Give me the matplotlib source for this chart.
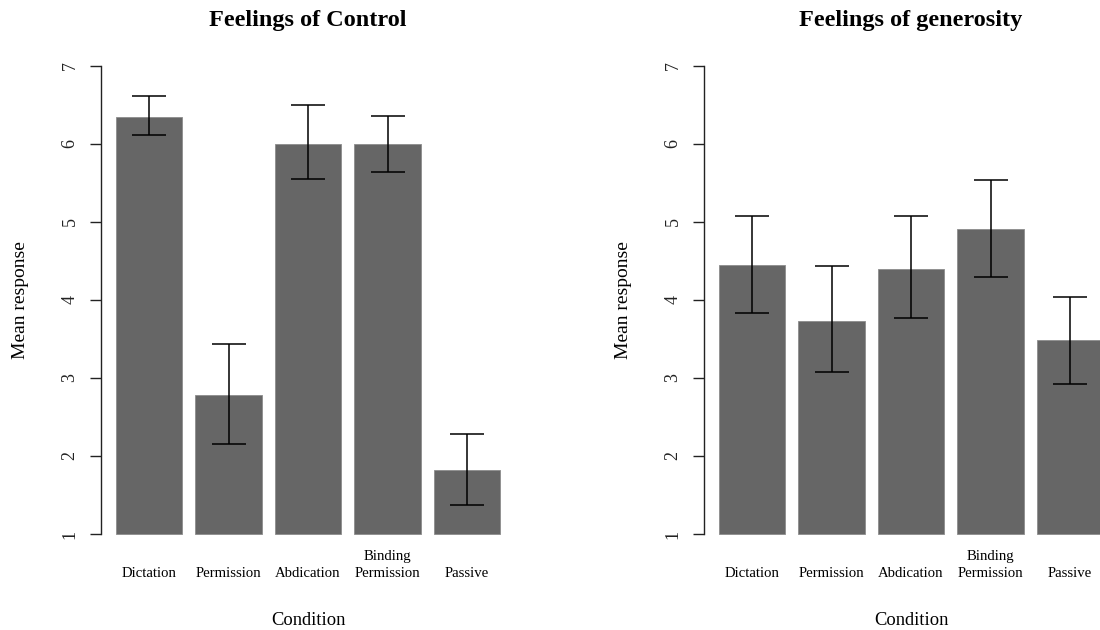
import matplotlib
matplotlib.use("Agg")
import matplotlib.pyplot as plt
import matplotlib.transforms as mtransforms

plt.rcParams['font.family'] = ['Liberation Serif', 'DejaVu Serif']

conditions = ["Dictation", "Permission", "Abdication", "Binding\nPermission", "Passive"]

control_mean = [6.34, 2.78, 6.00, 5.99, 1.82]
control_upper = [6.61, 3.43, 6.49, 6.35, 2.28]
control_lower = [6.11, 2.15, 5.55, 5.63, 1.37]

generosity_mean = [4.44, 3.73, 4.40, 4.90, 3.48]
generosity_upper = [5.07, 4.43, 5.07, 5.53, 4.03]
generosity_lower = [3.83, 3.07, 3.76, 4.29, 2.92]

titles = ["Feelings of Control", "Feelings of generosity"]
yticks = [1, 2, 3, 4, 5, 6, 7]

W, H = 1100, 630
fig = plt.figure(figsize=(W / 100, H / 100), dpi=100)

bar_color = "#666666"
ax_bottom = (H - 552.7) / H
ax_height = (552.7 - 46.8) / H
ax_width = (515.6 - 100.6) / W
lefts = [100.6 / W, 703.6 / W]

centers = [0.2 + 0.5 + i * 1.2 for i in range(len(conditions))]

panels = [
    (control_mean, control_upper, control_lower),
    (generosity_mean, generosity_upper, generosity_lower),
]

for k, (means, ups, los) in enumerate(panels):
    ax = fig.add_axes([lefts[k], ax_bottom, ax_width, ax_height])
    heights = [m - 1 for m in means]
    ax.bar(centers, heights, width=1.0, bottom=1, color=bar_color,
           edgecolor="#8c8c8c", linewidth=0.6, zorder=2)
    yerr = [[m - l for m, l in zip(means, los)], [u - m for m, u in zip(means, ups)]]
    ax.errorbar(centers, means, yerr=yerr, fmt="none", ecolor="black",
                elinewidth=1.1, capsize=12, capthick=1.1, zorder=3)
    ax.set_xlim(-0.032, 6.232)
    ax.set_ylim(0.76, 7.24)
    for s in ["top", "right", "bottom"]:
        ax.spines[s].set_visible(False)
    ax.spines["left"].set_bounds(1, 7)
    ax.spines["left"].set_linewidth(1.0)
    ax.spines["left"].set_color("#222222")
    ax.set_xticks([])
    ax.set_yticks(yticks)
    ax.set_yticklabels([str(t) for t in yticks], rotation=90, va="center",
                       fontsize=13, color="#222222")
    ax.tick_params(axis="y", length=8, width=1.0, color="#222222", pad=8)
    ax.set_ylabel("Mean response", fontsize=14, va="center")
    lab_trans = mtransforms.blended_transform_factory(fig.transFigure, ax.transAxes)
    ax.yaxis.set_label_coords((lefts[k] * W - 80) / W, 0.5, transform=lab_trans)

    # x category labels (bottom-aligned lines)
    trans = mtransforms.blended_transform_factory(ax.transData, fig.transFigure)
    for c, lab in zip(centers, conditions):
        lines = lab.split("\n")
        for j, line in enumerate(reversed(lines)):
            base_px = 577 - 17 * j
            ax.text(c, (H - base_px) / H, line, transform=trans, ha="center",
                    va="baseline", fontsize=10.6)
    axc = lefts[k] + ax_width / 2
    fig.text(axc, (H - 625) / H, "Condition", ha="center", va="baseline", fontsize=13.3)
    fig.text(axc, (H - 26) / H, titles[k], ha="center", va="baseline",
             fontsize=17.5, fontweight="bold")

fig.savefig("out.png", dpi=100)
